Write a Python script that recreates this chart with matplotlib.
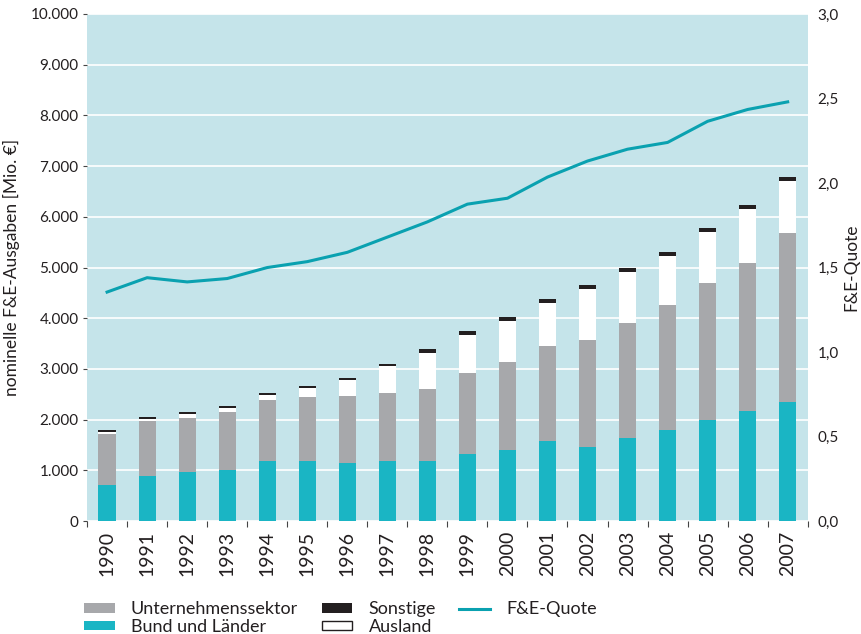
import matplotlib
matplotlib.use("Agg")
import matplotlib.pyplot as plt
import numpy as np
from matplotlib.patches import Patch
from matplotlib.lines import Line2D
from matplotlib.ticker import FixedLocator, FuncFormatter

plt.rcParams["font.family"] = ["Lato", "DejaVu Sans"]

years = [str(y) for y in range(1990, 2008)]
bund = [715, 890, 970, 1010, 1190, 1190, 1150, 1190, 1190, 1330, 1410, 1590, 1470, 1630, 1800, 2000, 2180, 2340]
unternehmen = [1010, 1090, 1070, 1150, 1190, 1250, 1325, 1345, 1425, 1590, 1720, 1855, 2110, 2270, 2455, 2695, 2910, 3345]
ausland = [25, 40, 80, 80, 100, 180, 315, 515, 695, 745, 810, 850, 990, 1010, 970, 1010, 1070, 1030]
sonstige = [40, 40, 40, 40, 40, 40, 40, 40, 80, 80, 80, 80, 80, 80, 80, 80, 80, 80]
quote = [1.355, 1.44, 1.415, 1.435, 1.50, 1.535, 1.59, 1.68, 1.77, 1.875, 1.91, 2.035, 2.13, 2.20, 2.24, 2.365, 2.435, 2.48]

C_BG = "#c5e4ea"
C_CYAN = "#1ab5c4"
C_GRAY = "#a7a8ab"
C_BLACK = "#231f20"
C_LINE = "#0aa1b0"
C_TEXT = "#231f20"

fig = plt.figure(figsize=(8.62, 6.34), dpi=100)
ax = fig.add_axes([0.101, 0.178, 0.836, 0.800])
ax.set_facecolor(C_BG)

x = np.arange(len(years))
w = 0.43
b1 = np.array(bund)
b2 = b1 + np.array(unternehmen)
b3 = b2 + np.array(ausland)
ax.bar(x, bund, w, color=C_CYAN, zorder=3)
ax.bar(x, unternehmen, w, bottom=b1, color=C_GRAY, zorder=3)
ax.bar(x, ausland, w, bottom=b2, color="white", zorder=3)
ax.bar(x, sonstige, w, bottom=b3, color=C_BLACK, zorder=3)

ax.set_xlim(-0.5, len(years) - 0.5)
ax.set_ylim(0, 10000)
ax.set_yticks(np.arange(0, 10001, 1000))
ax.yaxis.set_major_formatter(FuncFormatter(lambda v, p: f"{int(v):,}".replace(",", ".")))
ax.grid(axis="y", color="white", lw=1.2, zorder=1)
ax.set_xticks(x)
ax.set_xticklabels(years, rotation=90, fontsize=14, color=C_TEXT)
ax.xaxis.set_minor_locator(FixedLocator(np.arange(-0.5, len(years), 1)))
ax.tick_params(axis="x", which="major", length=0, pad=7)
ax.tick_params(axis="x", which="minor", length=4, width=0.8, color="#444444")
ax.tick_params(axis="y", length=3, width=0.8, color="#444444", labelsize=11, labelcolor=C_TEXT, pad=3)
for s in ax.spines.values():
    s.set_visible(False)
ax.set_ylabel("nominelle F&E-Ausgaben [Mio. €]", fontsize=12.5, color=C_TEXT, labelpad=8)

ax2 = ax.twinx()
ax2.plot(x, quote, color=C_LINE, lw=2.2, zorder=4)
ax2.set_ylim(0, 3.0)
ax2.set_yticks(np.arange(0, 3.01, 0.5))
ax2.yaxis.set_major_formatter(FuncFormatter(lambda v, p: f"{v:.1f}".replace(".", ",")))
ax2.tick_params(axis="y", length=0, labelsize=11, labelcolor=C_TEXT, pad=7)
for s in ax2.spines.values():
    s.set_visible(False)
fig.text(0.988, 0.578, "F&E-Quote", rotation=90, ha="center", va="center",
         fontsize=12.5, color=C_TEXT)

handles = [
    Patch(facecolor=C_GRAY, edgecolor="none"),
    Patch(facecolor=C_CYAN, edgecolor="none"),
    Patch(facecolor=C_BLACK, edgecolor="none"),
    Patch(facecolor="white", edgecolor=C_BLACK, lw=1),
    Line2D([0], [0], color=C_LINE, lw=2.2),
]
labels = ["Unternehmenssektor", "Bund und Länder", "Sonstige", "Ausland", "F&E-Quote"]
fig.legend(handles, labels, ncol=3, loc="upper left", bbox_to_anchor=(0.087, 0.066),
           frameon=False, fontsize=13, handlelength=1.7, handleheight=0.45,
           handletextpad=0.9, columnspacing=1.3, labelspacing=0.1, borderpad=0,
           labelcolor=C_TEXT)

fig.savefig("out.png", dpi=100)
